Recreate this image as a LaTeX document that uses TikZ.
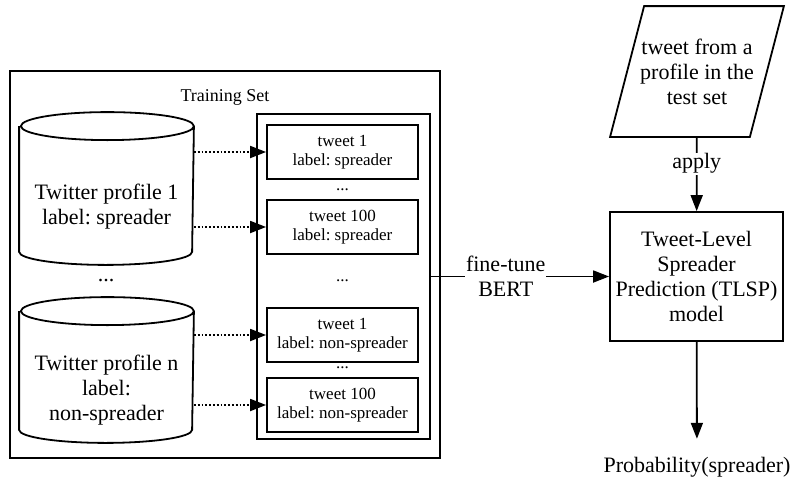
\documentclass[tikz,border=0pt]{standalone}
\usepackage{fontspec}
\setmainfont{Liberation Serif}
\usetikzlibrary{arrows.meta}
\frenchspacing
\begin{document}
\begin{tikzpicture}[x=1pt, y=-1pt, line width=1.8pt,
		>={Triangle[length=16pt,width=12pt]},
		bigtext/.style={font=\fontsize{22}{25}\selectfont, align=center},
		smalltext/.style={font=\fontsize{17}{19}\selectfont, align=center},
		tweetbox/.style={draw, smalltext, minimum width=151pt, minimum height=54pt, inner sep=0pt},
		profile/.style={minimum width=173pt, inner sep=0pt},
		edgelabel/.style={fill=white, bigtext, inner sep=1pt}]
		\useasboundingbox (0,0) rectangle (793,485);
		% training set
		\node[draw, minimum width=430pt, minimum height=387pt] (trainset) at (225,264.5) {};
		\node[font=\fontsize{18}{20}\selectfont] (trainlabel) at (225,97) {Training Set};
		\node[profile, minimum height=124pt] (prof1) at (106.5,189) {};
		\draw (prof1.north west) -- (prof1.south west) arc[start angle=180, end angle=360, x radius=86.5pt, y radius=13pt]
			-- (prof1.north east) arc[start angle=0, end angle=360, x radius=86.5pt, y radius=14pt];
		\node[bigtext] (prof1text) at (106.5,206.5) {Twitter profile 1\\label: spreader};
		\node[bigtext] (profdots) at (106,281) {...};
		\node[profile, minimum height=117pt] (profn) at (106.5,370.5) {};
		\draw (profn.north west) -- (profn.south west) arc[start angle=180, end angle=360, x radius=86.5pt, y radius=13pt]
			-- (profn.north east) arc[start angle=0, end angle=360, x radius=86.5pt, y radius=14pt];
		\node[bigtext] (profntext) at (106.5,390) {Twitter profile n\\label:\\non-spreader};
		\node[draw, minimum width=173pt, minimum height=325pt] (tweets) at (343.5,276.5) {};
		\node[tweetbox] (tw1) at (342.5,152) {tweet 1\\label: spreader};
		\node[smalltext] (twdots1) at (342.5,190) {...};
		\node[tweetbox] (tw100) at (342.5,227) {tweet 100\\label: spreader};
		\node[smalltext] (twdots2) at (342.5,281) {...};
		\node[tweetbox] (twn1) at (342.5,335) {tweet 1\\label: non-spreader};
		\node[smalltext] (twdots3) at (342.5,368) {...};
		\node[tweetbox] (twn100) at (342.5,405) {tweet 100\\label: non-spreader};
		\draw[dotted, ->] (prof1.east |- tw1.west) -- (tw1.west);
		\draw[dotted, ->] (prof1.east |- tw100.west) -- (tw100.west);
		\draw[dotted, ->] (profn.east |- twn1.west) -- (twn1.west);
		\draw[dotted, ->] (profn.east |- twn100.west) -- (twn100.west);
		% model
		\node[bigtext, minimum width=138pt, minimum height=129pt, inner sep=0pt] (test) at (697,71.5)
			{tweet from a\\profile in the\\test set};
		\draw ([xshift=-17pt]test.south west) -- ([xshift=-17pt]test.south east)
			-- ([xshift=17pt]test.north east) -- ([xshift=17pt]test.north west) -- cycle;
		\node[draw, bigtext, minimum width=173pt, minimum height=129pt] (tlsp) at (696.5,276.5)
			{Tweet-Level\\Spreader\\Prediction (TLSP)\\model};
		\node[bigtext] (prob) at (697,467) {Probability(spreader)};
		\draw[->] (tweets) -- node[edgelabel, pos=0.42] {fine-tune\\BERT} (tlsp);
		\draw[->] (test) -- node[edgelabel, pos=0.36] {apply} (tlsp);
		\draw[->, shorten >=14pt] (tlsp) -- (prob);
	\end{tikzpicture}
\end{document}
